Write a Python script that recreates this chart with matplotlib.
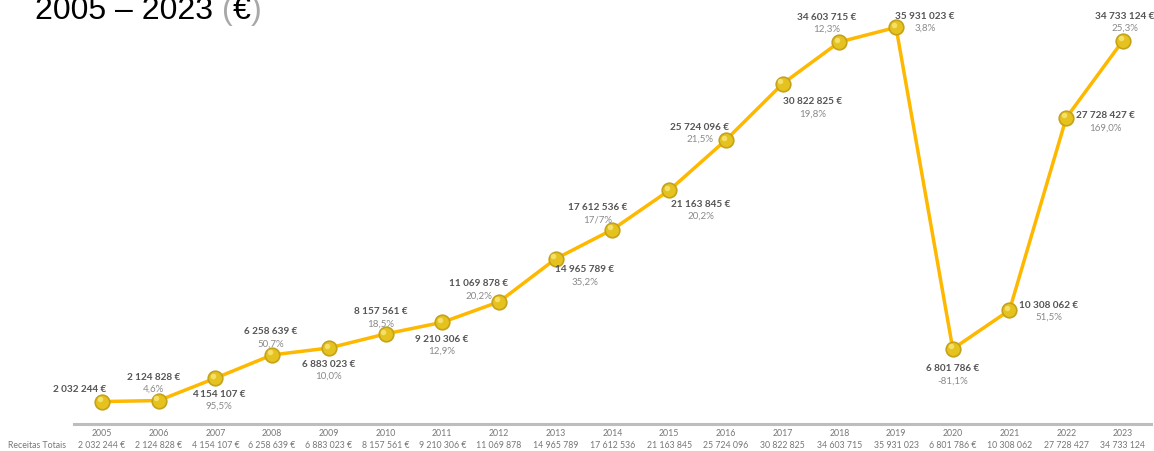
import matplotlib
matplotlib.use("Agg")
import matplotlib.pyplot as plt
import matplotlib.transforms as mtransforms

# data
years = [2005, 2006, 2007, 2008, 2009, 2010, 2011, 2012, 2013, 2014,
         2015, 2016, 2017, 2018, 2019, 2020, 2021, 2022, 2023]
receitas = [2032244, 2124828, 4154107, 6258639, 6883023, 8157561, 9210306,
            11069878, 14965789, 17612536, 21163845, 25724096, 30822825,
            34603715, 35931023, 6801786, 10308062, 27728427, 34733124]
variacao = ["", "4,6%", "95,5%", "50,7%", "10,0%", "18,5%", "12,9%", "20,2%",
            "35,2%", "17/7%", "20,2%", "21,5%", "19,8%", "12,3%", "3,8%",
            "-81,1%", "51,5%", "169,0%", "25,3%"]
# which bottom-row entries carry the euro sign
row_euro = [True, True, True, True, True, True, True, False, False, False,
            False, False, False, False, False, True, False, False, False]

# label offsets from each point in pixels (dx, dy of the value text, y down)
label_off = [(-22, -13), (-5, -24), (3, 15), (-1, -24), (0, 15), (-5, -23),
             (-1, 16), (-20, -19), (29, 10), (-15, -23), (32, 13), (-26, -14),
             (30, 17), (-13, -26), (29, -12), (0, 19), (39, -6), (39, -3),
             (2, -25)]


def fmt(v):
    return f"{v:,}".replace(",", " ")


W, H = 1154, 452
fig = plt.figure(figsize=(W / 100, H / 100), dpi=100)
ax = fig.add_axes([73.6 / W, 27 / H, 1077.7 / W, 425 / H])
x = list(range(len(years)))

ax.plot(x, receitas, color="#FFB800", lw=2.5, zorder=2, clip_on=False)
ax.plot(x, receitas, "o", ms=10.5, mfc="#E6C21E", mec="#C4A21A", mew=1.2,
        zorder=3, clip_on=False)
# small highlight so the markers look like little spheres
ax.plot([xi - 0.04 for xi in x], [r + 2.2e5 for r in receitas], "o", ms=4,
        mfc="#F8E77A", mec="none", alpha=0.8, zorder=4, clip_on=False)

ax.set_xlim(-0.5, 18.5)
ax.set_ylim(0, 38.5e6)
for s in ["top", "right", "left"]:
    ax.spines[s].set_visible(False)
ax.spines["bottom"].set_color("#BDBDBD")
ax.spines["bottom"].set_linewidth(2.2)
ax.set_yticks([])
ax.set_xticks(x)
ax.set_xticklabels([str(y) for y in years], fontsize=6.3, color="#777777",
                   family="Lato")
ax.tick_params(axis="x", length=0, pad=3)

for i, v in enumerate(receitas):
    dx, dy = label_off[i]
    ax.annotate(fmt(v) + " €", (i, v), xytext=(dx, -dy),
                textcoords="offset pixels", ha="center", va="center",
                fontsize=7.2, fontweight="bold", color="#555555",
                family="Lato", annotation_clip=False)
    if variacao[i]:
        ax.annotate(variacao[i], (i, v), xytext=(dx, -(dy + 12)),
                    textcoords="offset pixels", ha="center", va="center",
                    fontsize=7.0, color="#8A8A8A", family="Lato",
                    annotation_clip=False)

# bottom row of totals
trans = mtransforms.blended_transform_factory(ax.transData, fig.transFigure)
for i, v in enumerate(receitas):
    txt = fmt(v) + (" €" if row_euro[i] else "")
    ax.text(i, 1 - 446 / H, txt, transform=trans, ha="center", va="center",
            fontsize=6.3, color="#777777", family="Lato")
fig.text(8 / W, 1 - 446 / H, "Receitas Totais", ha="left", va="center",
         fontsize=6.3, color="#777777", family="Lato")

# title, partly above the top edge as in the source
tkw = dict(fontsize=23, family="Liberation Sans", va="baseline")
ty = 1 - 19 / H
t1 = fig.text(35 / W, ty, "2005 – 2023 ", color="black", **tkw)
parts = [fig.text(0, 0, "(", color="#A8A8A8", **tkw),
         fig.text(0, 0, "€", color="black", **tkw),
         fig.text(0, 0, ")", color="#A8A8A8", **tkw)]
fig.canvas.draw()
r = fig.canvas.get_renderer()
xpos = t1.get_window_extent(r).x1
for t in parts:
    t.set_position((xpos / W, ty))
    xpos += t.get_window_extent(r).width

fig.savefig("out.png", dpi=100)
